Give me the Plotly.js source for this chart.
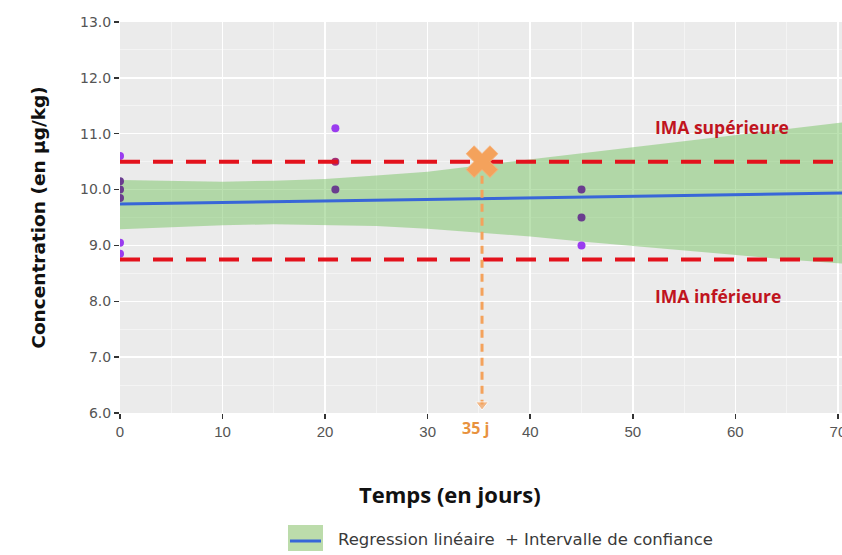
<!DOCTYPE html>
<html>
<head>
<meta charset="utf-8">
<script src="https://cdn.plot.ly/plotly-3.0.1.min.js"></script>
<style>html,body{margin:0;padding:0;background:#fff;}#chart{width:842px;height:555px;}</style>
</head>
<body>
<div id="chart"></div>
<script>
// ---- data ----
const pointsX = [0, 0, 0, 0, 0, 0, 21, 21, 21, 45, 45, 45];
const pointsY = [10.6, 10.15, 10.0, 9.85, 9.05, 8.85, 11.1, 10.5, 10.0, 10.0, 9.5, 9.0];

const regX = [0, 75];
const regY = [9.74, 9.95];

const bandX     = [0, 5, 10, 15, 20, 25, 30, 35, 40, 45, 50, 55, 60, 65, 70, 75];
const bandUpper = [10.17, 10.15, 10.14, 10.16, 10.19, 10.25, 10.32, 10.43, 10.54, 10.65, 10.77, 10.88, 10.99, 11.09, 11.2, 11.3];
const bandLower = [9.29, 9.33, 9.36, 9.38, 9.37, 9.35, 9.30, 9.23, 9.16, 9.07, 8.99, 8.90, 8.83, 8.75, 8.68, 8.61];

const imaSup = 10.5;
const imaInf = 8.75;
const imaSpanX = [0, 75];
const crossDay = 35.3;
const arrowEndY = 6.15;

const xTicks = [0, 10, 20, 30, 40, 50, 60, 70];
const yTicks = [6, 7, 8, 9, 10, 11, 12, 13];

const labelSup = 'IMA supérieure';
const labelInf = 'IMA inférieure';
const labelDay = '35 j';
const xTitle = 'Temps (en jours)';
const yTitle = 'Concentration (en µg/kg)';
const legendText = 'Regression linéaire  + Intervalle de confiance';

// ---- styles ----
const purple = '#9a3cef';
const darkPurple = '#6a3d8f';
const pointColors = [purple, darkPurple, darkPurple, darkPurple, purple, purple,
                     purple, '#a0307a', darkPurple, darkPurple, darkPurple, purple];
const bandFill = 'rgba(120,196,100,0.5)';
const red = '#e3121c';
const orange = '#f4a25c';

const traces = [
  { x: bandX, y: bandLower, mode: 'lines', type: 'scatter',
    line: { width: 0 }, hoverinfo: 'skip', showlegend: false },
  { x: regX, y: regY, mode: 'lines', type: 'scatter', fill: 'tonexty', fillcolor: bandFill,
    line: { color: '#3866d8', width: 3 }, showlegend: false },
  { x: bandX, y: bandUpper, mode: 'lines', type: 'scatter', fill: 'tonexty', fillcolor: bandFill,
    line: { width: 0 }, hoverinfo: 'skip', showlegend: false },
  { x: pointsX, y: pointsY, mode: 'markers', type: 'scatter',
    marker: { size: 8, color: pointColors }, hoverinfo: 'x+y', showlegend: false },
  { x: imaSpanX, y: imaSpanX.map(() => imaSup), mode: 'lines', type: 'scatter',
    line: { color: red, width: 4, dash: '20px,13px' }, showlegend: false },
  { x: imaSpanX, y: imaSpanX.map(() => imaInf), mode: 'lines', type: 'scatter',
    line: { color: red, width: 4, dash: '20px,13px' }, showlegend: false },
  { x: [crossDay, crossDay], y: [imaSup, arrowEndY], mode: 'lines+markers', type: 'scatter',
    line: { color: orange, width: 3, dash: '8px,6px' },
    marker: { symbol: 'triangle-down', size: [0, 11], color: orange }, showlegend: false },
  { x: [crossDay], y: [imaSup], mode: 'markers', type: 'scatter',
    marker: { symbol: 'x', size: 28, color: orange, line: { color: '#f7b27a', width: 1 } },
    showlegend: false }
];

const W = 722, H = 391, L = 120, T = 22; // plot area in px
const px = v => (v - L) / W;
const py = v => (T + H - v) / H;

const layout = {
  width: 842, height: 555,
  margin: { l: 120, r: 0, t: 22, b: 142 },
  paper_bgcolor: '#ffffff',
  plot_bgcolor: '#ebebeb',
  showlegend: false,
  font: { family: 'Liberation Sans, Arial, sans-serif' },
  xaxis: {
    range: [0, 70.4], tickvals: xTicks, ticktext: xTicks.map(String),
    ticklabeloverflow: 'allow',
    ticks: 'outside', ticklen: 5, tickwidth: 1.5, tickcolor: '#333',
    tickfont: { family: 'Liberation Sans Narrow, Liberation Sans, Arial, sans-serif', size: 15, color: '#555' },
    showgrid: true, gridcolor: '#ffffff', gridwidth: 1.5,
    minor: { dtick: 5, showgrid: true, gridcolor: '#f6f6f6', gridwidth: 0.8 },
    zeroline: false, showline: false, fixedrange: true
  },
  yaxis: {
    range: [6, 13], tickvals: yTicks, ticktext: yTicks.map(v => v.toFixed(1)),
    ticks: 'outside', ticklen: 5, tickwidth: 1.5, tickcolor: '#333',
    tickfont: { family: 'DejaVu Sans, sans-serif', size: 14, color: '#555' },
    showgrid: true, gridcolor: '#ffffff', gridwidth: 1.5,
    minor: { dtick: 0.5, showgrid: true, gridcolor: '#f6f6f6', gridwidth: 0.8 },
    zeroline: false, showline: false, fixedrange: true,
    title: { text: yTitle, standoff: 29,
      font: { family: 'DejaVu Sans, sans-serif', size: 18.5, color: '#111', weight: 'bold' } }
  },
  annotations: [
    { x: px(450), y: py(494), xref: 'paper', yref: 'paper', text: xTitle, showarrow: false,
      xanchor: 'center', yanchor: 'middle',
      font: { family: 'Open Sans, sans-serif', size: 22, color: '#111', weight: 'bold' } },
    { x: 58.7, y: 11.12, xref: 'x', yref: 'y', text: labelSup, showarrow: false,
      font: { family: 'Open Sans, sans-serif', size: 17.5, color: '#c0141e', weight: 'bold' } },
    { x: 58.3, y: 8.1, xref: 'x', yref: 'y', text: labelInf, showarrow: false,
      font: { family: 'Open Sans, sans-serif', size: 17.5, color: '#c0141e', weight: 'bold' } },
    { x: 34.7, y: py(441), xref: 'x', yref: 'paper', text: labelDay, showarrow: false,
      font: { family: 'Open Sans, sans-serif', size: 16, color: '#e8923e', weight: 'bold' } },
    { x: px(336), y: py(539), xref: 'paper', yref: 'paper', text: legendText, showarrow: false,
      xanchor: 'left', yanchor: 'middle',
      font: { family: 'DejaVu Sans, sans-serif', size: 16.5, color: '#3a3a3a' } }
  ],
  shapes: [
    { type: 'rect', xref: 'paper', yref: 'paper', x0: px(288), x1: px(323), y0: py(525), y1: py(551),
      fillcolor: '#bcdcab', line: { width: 0 } },
    { type: 'line', xref: 'paper', yref: 'paper', x0: px(290), x1: px(321), y0: py(541), y1: py(541),
      line: { color: '#3866d8', width: 3 } }
  ]
};

Plotly.newPlot('chart', traces, layout, { staticPlot: true });
</script>
</body>
</html>
